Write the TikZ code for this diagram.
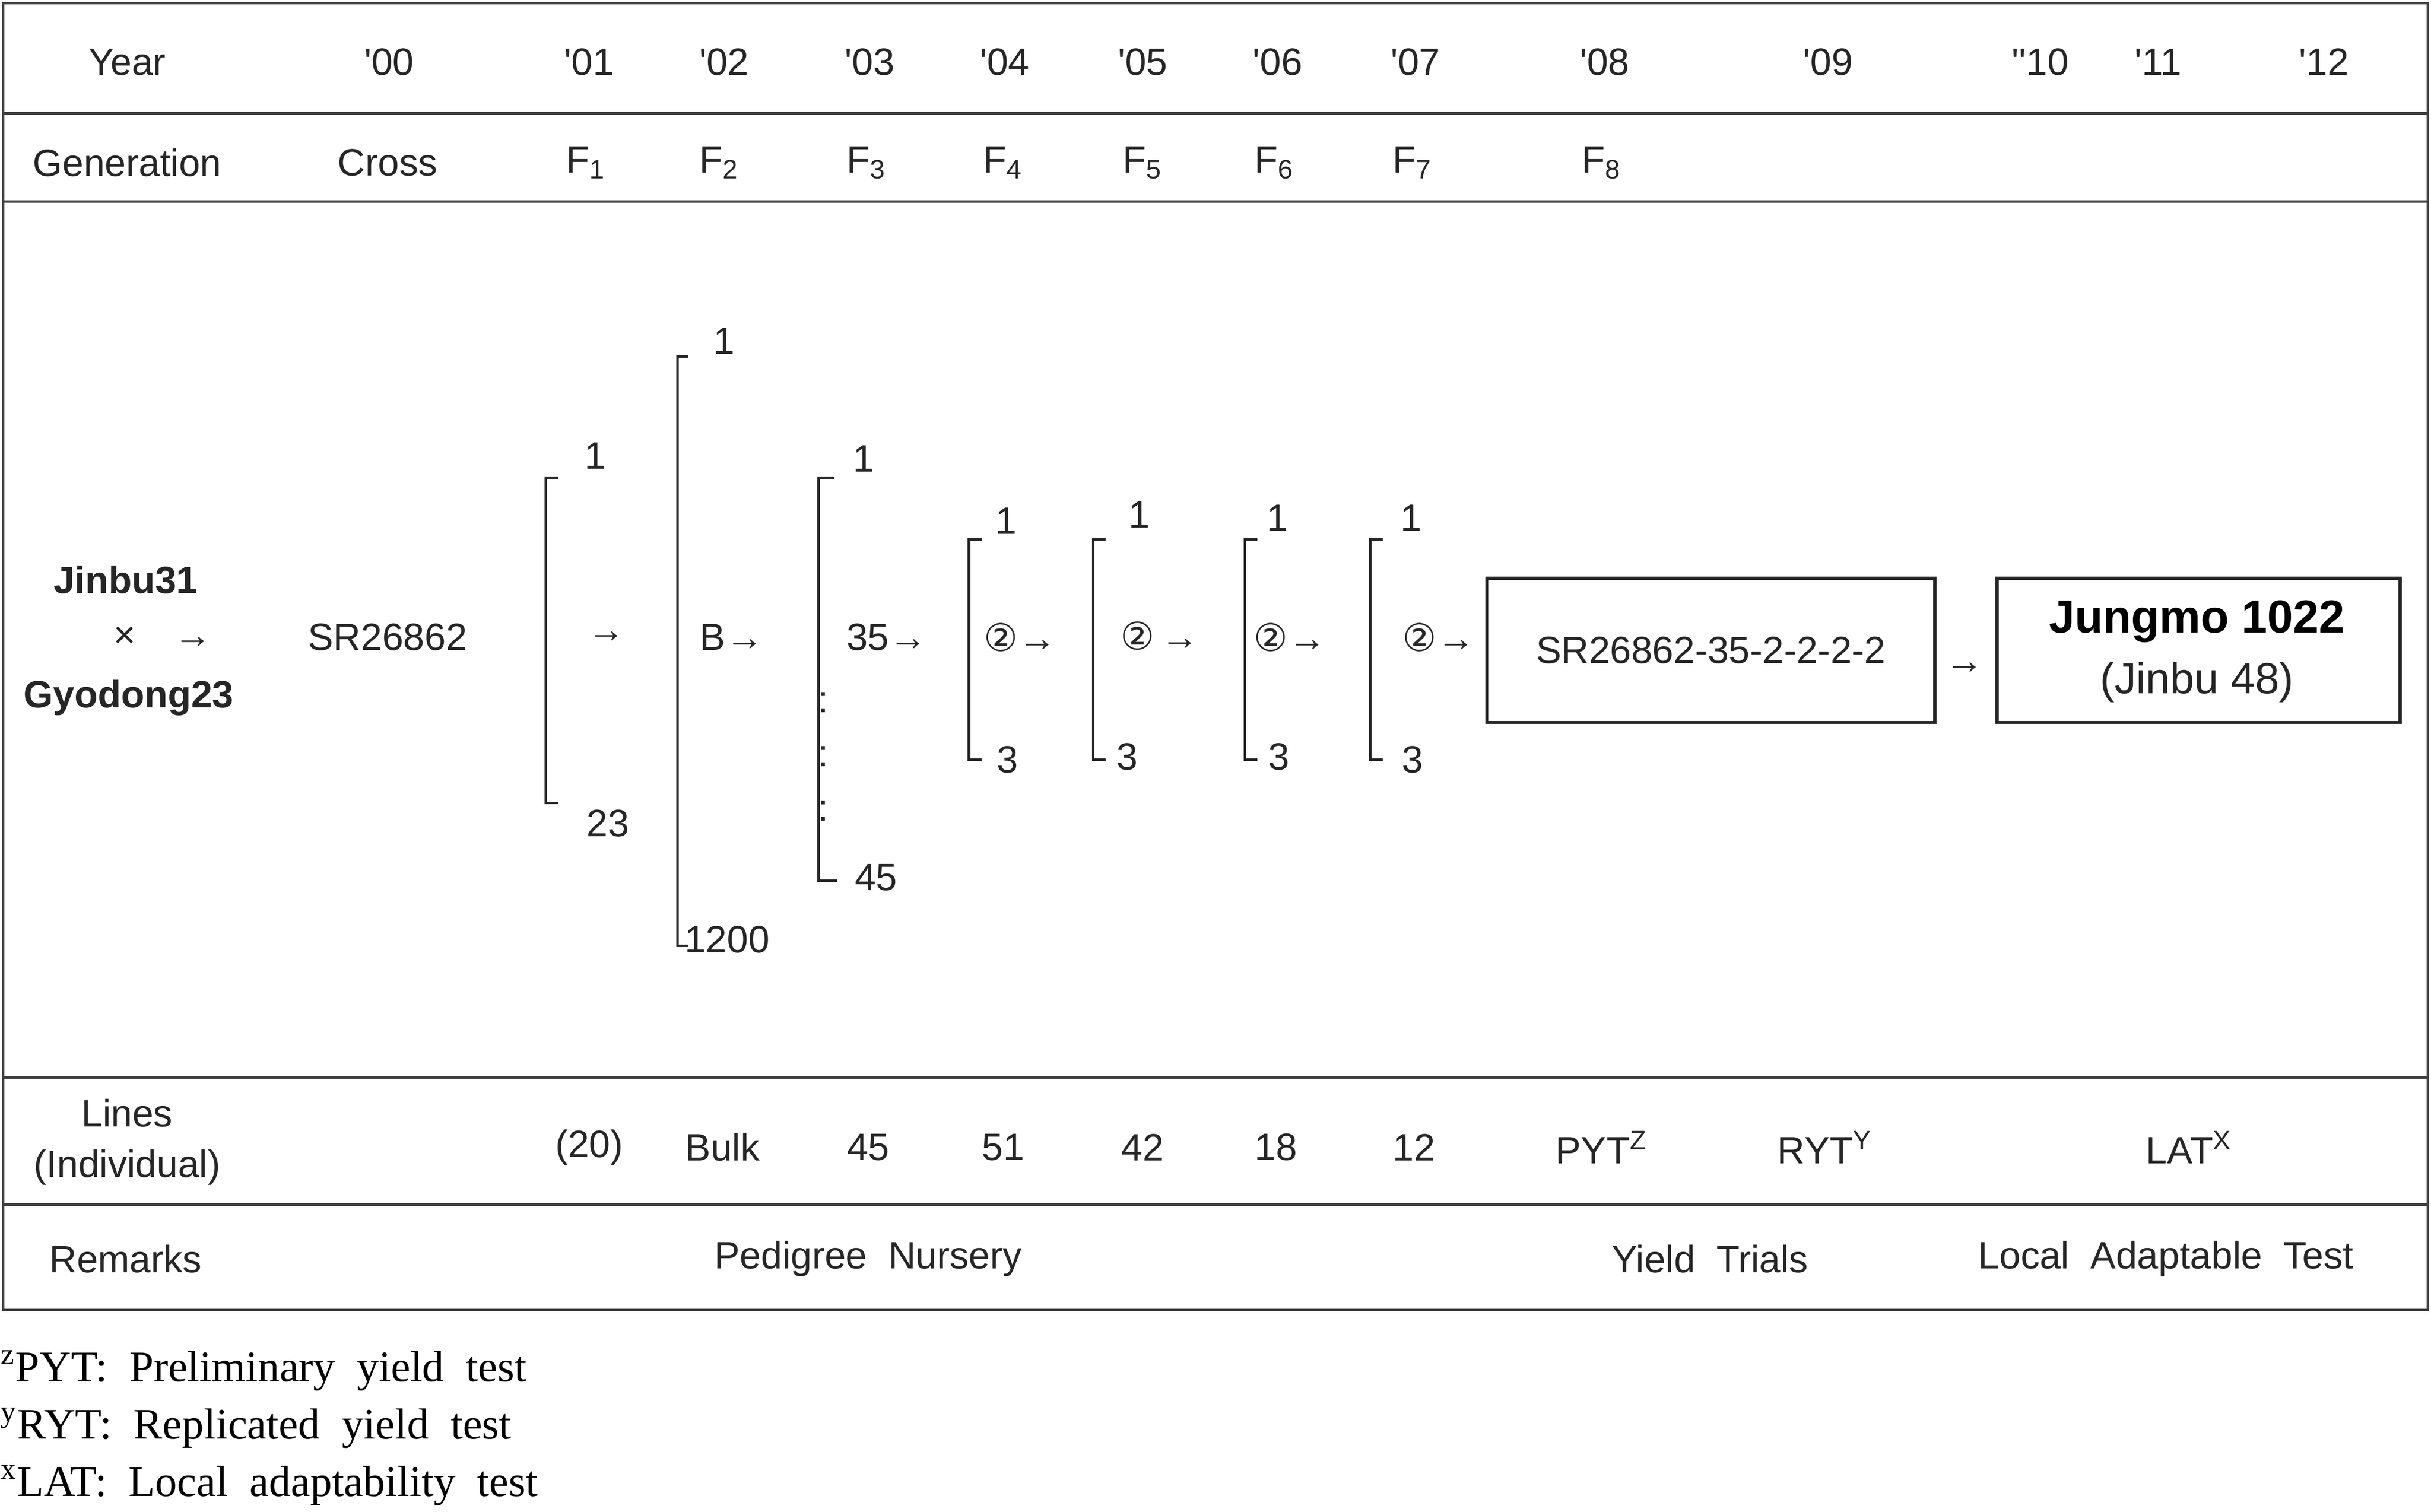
\documentclass[tikz,border=0pt]{standalone}
\usepackage{fontspec}
\setmainfont{Liberation Serif}
\newfontfamily\tsans{Liberation Sans}
\newfontfamily\djsans{DejaVu Sans}
\begin{document}
\begin{tikzpicture}[x=0.02cm,y=-0.02cm,
  t/.style={font=\tsans\fontsize{14}{16}\selectfont,inner sep=0pt,text=black!85},
  rule/.style={line width=1pt,draw=black!75},
  brk/.style={line width=0.9pt,draw=black!85},
  bx/.style={draw=black!85,line width=1.2pt,minimum width=289*0.02cm,minimum height=93*0.02cm,inner sep=0pt},
  fn/.style={font=\fontsize{16}{18}\selectfont,anchor=west,inner sep=0pt}]
\useasboundingbox (0,0) rectangle (1568,975);
\draw[rule] (2,2) rectangle (1566,845);
\foreach \y in {73,130,695,777} \draw[rule] (2,\y) -- (1566,\y);
% Year row
\foreach \x/\s [count=\i] in {82/Year,251/'00,380/'01,467/'02,561/'03,648/'04,737/'05,824/'06,913/'07,1035/'08,1179/'09,1316/''10,1392/'11,1499/'12}
  \node[t] (y\i) at (\x,40) {\s};
% Generation row
\node[t] (g0) at (82,105) {Generation};
\node[t] (g00) at (250,105) {Cross};
\foreach \x/\n in {378/1,464/2,559/3,647/4,737/5,822/6,911/7,1033/8}
  \node[t] (g\n) at (\x,105) {F\textsubscript{\n}};
% main
\node[t,font=\tsans\bfseries\fontsize{14}{16}\selectfont] (jb) at (81,374) {Jinbu31};
\node[t] (cr) at (105,411) {×\quad →};
\node[t,font=\tsans\bfseries\fontsize{14}{16}\selectfont] (gy) at (83,450) {Gyodong23};
\node[t] (sr) at (250,411) {SR26862};
% bracket 1
\draw[brk] (360,308) -- (352,308) -- (352,518) -- (360,518);
\node[t] (b1a) at (384,294) {1};
\node[t] (b1b) at (392,531) {23};
\node[t] (b1c) at (391,411) {→};
% bracket 2
\draw[brk] (444,230) -- (437,230) -- (437,610) -- (444,610);
\node[t] (b2a) at (467,220) {1};
\node[t] (b2b) at (469,606) {1200};
\node[t] (b2c) at (472,411) {B→};
% bracket 3
\draw[brk] (538,308) -- (528,308) -- (528,568) -- (540,568);
\node[t] (b3a) at (557,296) {1};
\node[t] (b3b) at (565,566) {45};
\node[t] (b3c) at (572,411) {35→};
\foreach \y [count=\i] in {453,488,523} \node[t] (d\i) at (531,\y) {:};
% brackets 4-7
\foreach \bx/\ox/\oy/\tx/\ty [count=\i] in {625/649/336/650/490, 705/735/332/727/488, 803/824/334/825/488, 884/910/334/911/490}{
  \draw[brk] (\bx+8,348) -- (\bx,348) -- (\bx,490) -- (\bx+8,490);
  \node[t] (c\i a) at (\ox,\oy) {1};
  \node[t] (c\i b) at (\tx,\ty) {3};
}
\node[t] (e1) at (658,411) {{\djsans ②}→};
\node[t] (e2) at (748,410) {{\djsans ②}\,→};
\node[t] (e3) at (832,411) {{\djsans ②}→};
\node[t] (e4) at (928,411) {{\djsans ②}→};
% boxes
\node[bx,t] (box1) at (1103.5,419.5) {SR26862-35-2-2-2-2};
\node[t] (arr) at (1267,431) {→};
\node[bx,minimum width=260*0.02cm] (box2) at (1418,419.5) {};
\node[t,font=\tsans\bfseries\fontsize{17}{19}\selectfont,text=black] (jm) at (1417,401) {Jungmo 1022};
\node[t,font=\tsans\fontsize{16}{18}\selectfont] (jn) at (1417,440) {(Jinbu 48)};
% Lines row
\node[t] (l1) at (82,718) {Lines};
\node[t] (l2) at (82,753) {(Individual)};
\foreach \x/\s [count=\i] in {380/(20),466/Bulk,560/45,647/51,737/42,823/18,912/12}
  \node[t] (n\i) at (\x,740) {\s};
\node[t] (pyt) at (1033,740) {PYT\textsuperscript{Z}};
\node[t] (ryt) at (1177,740) {RYT\textsuperscript{Y}};
\node[t] (lat) at (1412,740) {LAT\textsuperscript{X}};
% Remarks
\node[t] (r1) at (81,812) {Remarks};
\node[t] (r2) at (560,812) {Pedigree\ \ Nursery};
\node[t] (r3) at (1103,812) {Yield\ \ Trials};
\node[t] (r4) at (1397,812) {Local\ \ Adaptable\ \ Test};
% footnotes
\node[fn] (f1) at (0,884) {\textsuperscript{z}PYT:\ \ Preliminary\ \ yield\ \ test};
\node[fn] (f2) at (0,921) {\textsuperscript{y}RYT:\ \ Replicated\ \ yield\ \ test};
\node[fn] (f3) at (0,958) {\textsuperscript{x}LAT:\ \ Local\ \ adaptability\ \ test};
\end{tikzpicture}
\end{document}
